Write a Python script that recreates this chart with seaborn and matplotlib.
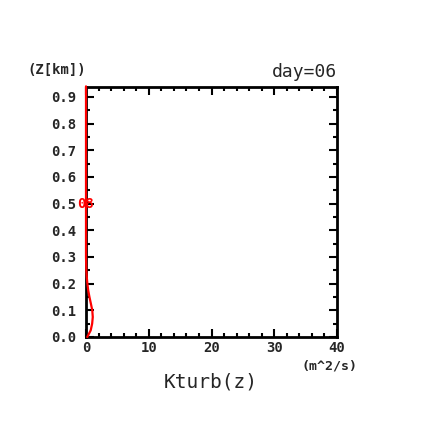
import matplotlib
matplotlib.use("Agg")
import matplotlib.pyplot as plt
import seaborn as sns
import numpy as np
import pandas as pd
from matplotlib.ticker import MultipleLocator

# Data
z_km = [0.0, 0.025, 0.05, 0.075, 0.1, 0.125, 0.15, 0.175, 0.2, 0.225, 0.25, 0.3,
        0.4, 0.5, 0.6, 0.7, 0.8, 0.9, 0.94]
kturb = [0.2, 0.75, 0.98, 1.08, 1.0, 0.78, 0.55, 0.35, 0.22, 0.12, 0.05, 0.0,
         0.0, 0.0, 0.0, 0.0, 0.0, 0.0, 0.0]
x_ticks = [0, 10, 20, 30, 40]
y_ticks = [0.0, 0.1, 0.2, 0.3, 0.4, 0.5, 0.6, 0.7, 0.8, 0.9]
curve_label = "08"
label_z = 0.5

sns.set_style("ticks")
plt.rcParams['font.family'] = ['DejaVu Sans Mono', 'DejaVu Sans']

df = pd.DataFrame({"K": kturb, "z": z_km})

fig = plt.figure(figsize=(4.24, 4.24), dpi=100)
ax = fig.add_axes([86/424, (424-337)/424, 251/424, 250/424])

sns.lineplot(data=df, x="K", y="z", sort=False, orient="y", estimator=None,
             color="#ff0000", linewidth=1.6, ax=ax, clip_on=False, zorder=5)

ax.set_xlim(0, 40)
ax.set_ylim(0, 0.9375)
ax.set_xticks(x_ticks)
ax.set_yticks(y_ticks)
ax.set_xticklabels([str(v) for v in x_ticks], fontweight="bold", fontsize=10)
ax.set_yticklabels([f"{v:.1f}" for v in y_ticks], fontweight="bold", fontsize=10)
ax.xaxis.set_minor_locator(MultipleLocator(2))
ax.yaxis.set_minor_locator(MultipleLocator(0.05))
ax.tick_params(which="both", direction="in", top=True, right=True, width=1.5, color="black")
ax.tick_params(which="major", length=6)
ax.tick_params(axis="x", which="major", pad=3)
ax.tick_params(axis="y", which="major", pad=7)
ax.tick_params(which="minor", length=3)
for s in ax.spines.values():
    s.set_linewidth(2)
    s.set_color("black")
ax.set_xlabel("")
ax.set_ylabel("")

ax.text(0, label_z, curve_label, color="#ff0000", fontsize=10, fontweight="bold",
        ha="center", va="center", zorder=6, clip_on=False)

fig.text(27/424, 1 - 70/424, "(Z[km])", fontsize=10, fontweight="bold", ha="left", va="center")
fig.text(337/424, 1 - 72/424, "day=06", fontsize=13, ha="right", va="center")
fig.text(358/424, 1 - 366/424, "(m^2/s)", fontsize=9.5, fontweight="bold", ha="right", va="center")
fig.text(211/424, 1 - 382/424, "Kturb(z)", fontsize=14, ha="center", va="center")

fig.savefig("out.png", dpi=100, facecolor="white")
